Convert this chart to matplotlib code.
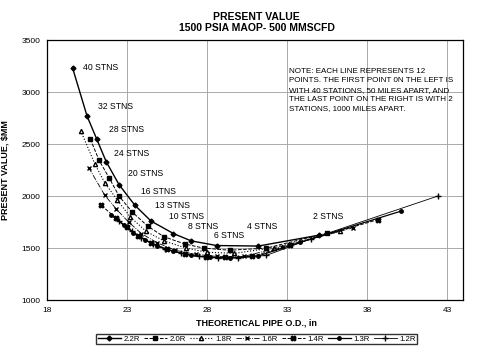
import matplotlib
matplotlib.use("Agg")
import matplotlib.pyplot as plt

plt.rcParams['font.family'] = ['Liberation Sans', 'DejaVu Sans']

stations = ["40", "32", "28", "24", "20", "16", "13", "10", "8", "6", "4", "2"]

x_22 = [19.6, 20.5, 21.1, 21.7, 22.5, 23.5, 24.5, 25.9, 27.0, 28.6, 31.2, 35.0]
y_22 = [3230, 2770, 2550, 2330, 2110, 1910, 1760, 1640, 1570, 1525, 1520, 1625]
x_20 = [20.7, 21.25, 21.9, 22.5, 23.3, 24.3, 25.3, 26.6, 27.8, 29.4, 31.7, 35.5]
y_20 = [2550, 2345, 2170, 2000, 1850, 1710, 1610, 1540, 1500, 1480, 1500, 1645]
x_18 = [20.1, 21.0, 21.6, 22.4, 23.2, 24.2, 25.3, 26.7, 28.0, 29.7, 32.2, 36.3]
y_18 = [2630, 2305, 2130, 1960, 1800, 1660, 1570, 1500, 1460, 1450, 1505, 1660]
x_16 = [20.6, 21.6, 22.3, 23.1, 23.9, 24.9, 26.0, 27.3, 28.6, 30.3, 32.7, 37.1]
y_16 = [2275, 2010, 1880, 1750, 1640, 1550, 1480, 1440, 1420, 1420, 1515, 1695]
x_14 = [21.4, 22.3, 23.0, 23.7, 24.5, 25.5, 26.6, 27.9, 29.1, 30.8, 33.2, 38.7]
y_14 = [1910, 1790, 1700, 1620, 1550, 1490, 1440, 1415, 1410, 1420, 1530, 1775]
x_13 = [22.0, 22.8, 23.4, 24.1, 24.9, 25.9, 27.0, 28.2, 29.4, 31.2, 33.8, 40.1]
y_13 = [1820, 1720, 1650, 1580, 1520, 1470, 1430, 1410, 1405, 1425, 1555, 1855]
x_12 = [22.5, 23.3, 23.9, 24.6, 25.4, 26.4, 27.5, 28.7, 29.9, 31.7, 34.5, 42.4]
y_12 = [1760, 1660, 1600, 1540, 1490, 1450, 1420, 1405, 1405, 1430, 1590, 2000]

label_x = [20.25, 21.2, 21.9, 22.2, 23.05, 23.9, 24.75, 25.6, 26.8, 28.4, 30.5, 34.6]
label_y = [3235, 2860, 2640, 2410, 2215, 2040, 1912, 1805, 1705, 1620, 1705, 1805]

fig = plt.figure(figsize=(4.8, 3.49), dpi=100)
ax = fig.add_axes([0.098, 0.14, 0.867, 0.745])

ax.plot(x_22, y_22, '-', color='black', lw=1.0, marker='D', ms=2.5, label='2.2R')
ax.plot(x_20, y_20, '--', color='black', lw=0.7, marker='s', ms=2.8, label='2.0R')
ax.plot(x_18, y_18, ':', color='black', lw=0.8, marker='^', ms=3, mfc='white', label='1.8R')
ax.plot(x_16, y_16, '-.', color='black', lw=0.6, marker='x', ms=3.5, label='1.6R')
ax.plot(x_14, y_14, '--', color='black', lw=0.7, marker='X', ms=3.5, label='1.4R')
ax.plot(x_13, y_13, '-', color='black', lw=0.9, marker='o', ms=2.5, label='1.3R')
ax.plot(x_12, y_12, '-', color='black', lw=0.6, marker='+', ms=4, label='1.2R')

for s, tx, ty in zip(stations, label_x, label_y):
    ax.text(tx, ty, s + " STNS", fontsize=6.2, va='center', ha='left')

ax.text(33.1, 3230,
        "NOTE: EACH LINE REPRESENTS 12\n"
        "POINTS. THE FIRST POINT 0N THE LEFT IS\n"
        "WITH 40 STATIONS, 50 MILES APART, AND\n"
        "THE LAST POINT ON THE RIGHT IS WITH 2\n"
        "STATIONS, 1000 MILES APART.",
        fontsize=5.8, va='top', ha='left', linespacing=1.45)

ax.set_xlim(18, 44)
ax.set_ylim(1000, 3500)
ax.set_xticks([18, 23, 28, 33, 38, 43])
ax.set_yticks([1000, 1500, 2000, 2500, 3000, 3500])
ax.tick_params(length=0, labelsize=6, pad=5)
ax.grid(True, color='#aaaaaa', lw=0.7)
for sp in ax.spines.values():
    sp.set_linewidth(0.9)

fig.text(0.535, 0.074, "THEORETICAL PIPE O.D., in", fontsize=6.5, fontweight='bold',
         ha='center', va='center')
ax.set_ylabel("PRESENT VALUE, $MM", fontsize=6.5, fontweight='bold', labelpad=8)
fig.text(0.535, 0.935, "PRESENT VALUE\n1500 PSIA MAOP- 500 MMSCFD",
         fontsize=7.5, fontweight='bold', ha='center', va='center', linespacing=1.2)

fig.legend(loc='center', bbox_to_anchor=(0.535, 0.029), ncol=7, fontsize=5.6,
           frameon=True, fancybox=False, edgecolor='black', handlelength=3.0,
           handletextpad=0.3, columnspacing=0.5, borderpad=0.2)

fig.savefig("out.png", dpi=100)
